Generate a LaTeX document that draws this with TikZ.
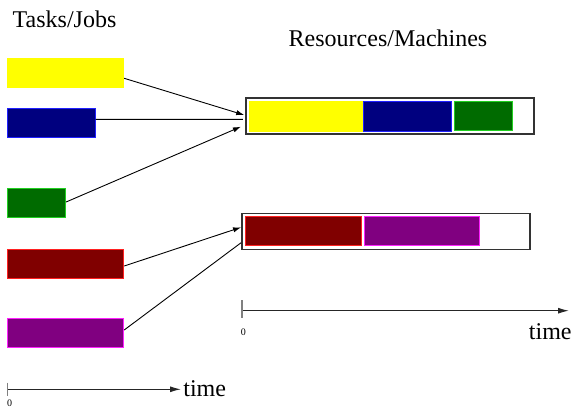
\documentclass[tikz,border=0pt]{standalone}
\usepackage{fontspec}
\setmainfont{Liberation Serif}
\usepackage{xcolor}
\usetikzlibrary{arrows.meta,calc}

\definecolor{yelFill}{HTML}{FFFF00}
\definecolor{bluFill}{HTML}{00007F}
\definecolor{bluLine}{HTML}{2020FF}
\definecolor{grnFill}{HTML}{006B00}
\definecolor{grnLine}{HTML}{20D020}
\definecolor{redFill}{HTML}{800000}
\definecolor{redLine}{HTML}{FF2020}
\definecolor{purFill}{HTML}{800080}
\definecolor{purLine}{HTML}{FF20FF}

\begin{document}
\begin{tikzpicture}[x=0.5pt, y=-0.5pt,
    job/.style={rectangle, draw, line width=0.5pt, inner sep=0pt, minimum height=14.5pt},
    machine/.style={rectangle, draw=black!80, line width=0.8pt, inner sep=0pt, minimum width=144pt, minimum height=18pt},
    arrow/.style={-{Latex[length=4pt,width=2.6pt]}, line width=0.45pt},
    link/.style={line width=0.45pt},
    axis/.style={-{Latex[length=5.5pt,width=3pt]}, line width=0.6pt, draw=black!85},
    tickmark/.style={draw=gray, line width=0.8pt},
    title/.style={inner sep=0pt, font=\fontsize{12}{14}\selectfont},
    zero/.style={inner sep=0pt, font=\fontsize{5}{6}\selectfont}
]
\useasboundingbox (0,0) rectangle (573,407);

% Titles
\node[title] (tasks) at (64.5,19.5) {Tasks/Jobs};
\node[title] (resources) at (388,38) {Resources/Machines};

% Jobs
\node[job, fill=yelFill, draw=yelFill, minimum width=58pt] (yelJob) at (65,72.5) {};
\node[job, fill=bluFill, draw=bluLine, minimum width=44pt] (bluJob) at (51,123) {};
\node[job, fill=grnFill, draw=grnLine, minimum width=29.2pt] (grnJob) at (36.2,202.5) {};
\node[job, fill=redFill, draw=redLine, minimum width=58pt] (redJob) at (65,263.5) {};
\node[job, fill=purFill, draw=purLine, minimum width=58pt] (purJob) at (65,332.5) {};

% Machines
\node[machine] (mach1) at (389.7,116) {};
\node[machine] (mach2) at (386.2,231.3) {};

% Scheduled jobs
\node[job, fill=yelFill, draw=yelFill, minimum width=57.3pt, minimum height=15pt] (yelSched) at (306.3,116) {};
\node[job, fill=bluFill, draw=bluLine, minimum width=43.8pt, minimum height=15pt] (bluSched) at (407.5,116) {};
\node[job, fill=grnFill, draw=grnLine, minimum width=29.3pt] (grnSched) at (483.3,116.2) {};
\node[job, fill=redFill, draw=redLine, minimum width=58pt] (redSched) at (303,231) {};
\node[job, fill=purFill, draw=purLine, minimum width=57.8pt] (purSched) at (421.8,231) {};

% Arrows
\draw[arrow] ($(yelJob.east)+(0.7,5.8)$) -- ($(mach1.west)+(-0.7,-1)$);
\draw[link] ($(bluJob.east)+(0,-3.7)$) -- ($(mach1.west)+(-2,3.3)$);
\draw[arrow] ($(grnJob.east)+(0.2,-0.5)$) -- ($(mach1.west)+(-4,10.7)$);
\draw[arrow] ($(redJob.east)+(0.7,2.5)$) -- ($(mach2.west)+(-0.3,-4)$);
\draw[link] ($(purJob.east)+(0.7,-2.5)$) -- ($(mach2.west)+(-0.3,11.4)$);

% Time axes
\coordinate (jobOrigin) at (7.3,389.3);
\coordinate (jobEnd) at (181,389.3);
\draw[axis] (jobOrigin) -- (jobEnd);
\draw[tickmark] ($(jobOrigin)+(0,-6.6)$) -- ($(jobOrigin)+(0,6.7)$);
\node[zero] (jobZero) at (9.5,403) {0};
\node[title, anchor=west] (jobTime) at (183,388.5) {time};

\coordinate (machOrigin) at (241.7,310.7);
\coordinate (machEnd) at (569,310.7);
\draw[axis] (machOrigin) -- (machEnd);
\draw[tickmark] ($(machOrigin)+(0,-10.7)$) -- ($(machOrigin)+(0,7.6)$);
\node[zero] (machZero) at (243.3,332.7) {0};
\node[title, anchor=east] (machTime) at (572,331.5) {time};

\end{tikzpicture}
\end{document}
